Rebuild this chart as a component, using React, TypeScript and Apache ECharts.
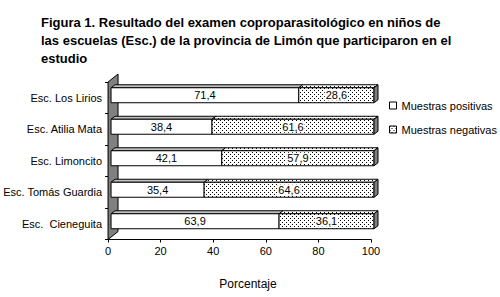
import React, { useEffect, useRef } from "react";
import * as echarts from "echarts";

const titleText =
  "Figura 1. Resultado del examen coproparasitológico en niños de\nlas escuelas (Esc.) de la provincia de Limón que participaron en el\nestudio";
const categories = [
  "Esc. Los Lirios",
  "Esc. Atilia Mata",
  "Esc. Limoncito",
  "Esc. Tomás Guardia",
  "Esc.  Cieneguita",
];
const positivas = [71.4, 38.4, 42.1, 35.4, 63.9];
const negativas = [28.6, 61.6, 57.9, 64.6, 36.1];
const seriesNames = ["Muestras positivas", "Muestras negativas"];
const xTicks = { min: 0, max: 100, interval: 20 };
const axisName = "Porcentaje";

const FONT = '"Liberation Sans", Arial, sans-serif';

function makePattern() {
  const c = document.createElement("canvas");
  c.width = 4;
  c.height = 4;
  const ctx = c.getContext("2d")!;
  ctx.fillStyle = "#fff";
  ctx.fillRect(0, 0, 4, 4);
  ctx.fillStyle = "#000";
  ctx.fillRect(0, 0, 1, 1);
  ctx.fillRect(2, 2, 1, 1);
  return { image: c, repeat: "repeat", imageWidth: 4, imageHeight: 4 } as any;
}

const fmt = (v: number) => v.toFixed(1).replace(".", ",");

export default function App() {
  const ref = useRef<HTMLDivElement>(null);
  useEffect(() => {
    if (!ref.current) return;
    const chart = echarts.init(ref.current, undefined, { renderer: "svg" });
    const pattern = makePattern();

    const makeBarRender = (isNeg: boolean) => (params: any, api: any) => {
      const start = api.value(0);
      const end = api.value(1);
      const ci = api.value(2);
      const p0 = api.coord([start, ci]);
      const p1 = api.coord([end, ci]);
      const band = api.size([0, 1])[1];
      const h = band * 0.476;
      const ox = 3,
        oy = -2.5,
        dx = 4,
        dy = -3;
      const x0 = p0[0] + ox;
      const x1 = p1[0] + ox;
      const yc = p0[1] + oy;
      const yt = yc - h / 2;
      const yb = yc + h / 2;
      const fill = isNeg ? pattern : "#fff";
      const stroke = { stroke: "#000", lineWidth: 1 };
      const children: any[] = [
        {
          type: "polygon",
          shape: {
            points: [
              [x0, yt],
              [x0 + dx, yt + dy],
              [x1 + dx, yt + dy],
              [x1, yt],
            ],
          },
          style: { fill: isNeg ? pattern : "#c0c0c0", ...stroke },
        },
        {
          type: "rect",
          shape: { x: x0, y: yt, width: x1 - x0, height: h },
          style: { fill, ...stroke },
        },
      ];
      if (isNeg) {
        children.push({
          type: "polygon",
          shape: {
            points: [
              [x1, yt],
              [x1 + dx, yt + dy],
              [x1 + dx, yb + dy],
              [x1, yb],
            ],
          },
          style: { fill: "#808080", ...stroke },
        });
      }
      children.push({
        type: "text",
        x: (x0 + x1) / 2,
        y: yc,
        style: {
          text: fmt(end - start),
          fill: "#000",
          font: `11px ${FONT}`,
          align: "center",
          verticalAlign: "middle",
          backgroundColor: "#fff",
          padding: [0, 1],
        },
      });
      return { type: "group", children };
    };

    const frameRender = (params: any, api: any) => {
      const cs = params.coordSys;
      const x = cs.x,
        y = cs.y,
        h = cs.height;
      return {
        type: "polygon",
        shape: {
          points: [
            [x, y],
            [x + 10, y - 8],
            [x + 10, y + h - 8],
            [x, y + h],
          ],
        },
        style: { fill: "#808080", stroke: "#000", lineWidth: 1 },
      };
    };

    chart.setOption({
      animation: false,
      backgroundColor: "#fff",
      title: {
        text: titleText,
        left: 36,
        top: 8,
        textStyle: {
          fontFamily: FONT,
          fontSize: 13,
          fontWeight: "bold",
          color: "#000",
          lineHeight: 18,
        },
      },
      legend: {
        data: seriesNames,
        orient: "vertical",
        left: 384,
        top: 95,
        itemWidth: 7,
        itemHeight: 7,
        itemGap: 13,
        icon: "rect",
        itemStyle: { borderColor: "#000", borderWidth: 1 },
        textStyle: { fontFamily: FONT, fontSize: 11, color: "#000" },
      },
      grid: { left: 108, right: 129, top: 82, bottom: 57.5, containLabel: false },
      xAxis: {
        type: "value",
        min: xTicks.min,
        max: xTicks.max,
        interval: xTicks.interval,
        axisLine: { show: true, lineStyle: { color: "#000" } },
        axisTick: { show: true, length: 3, lineStyle: { color: "#000" } },
        axisLabel: { fontFamily: FONT, fontSize: 11, color: "#000", margin: 6 },
        splitLine: { show: false },
        name: axisName,
        nameLocation: "middle",
        nameGap: 38,
        nameTextStyle: {
          fontFamily: FONT,
          fontSize: 12,
          color: "#000",
          padding: [0, 0, 0, 17],
        },
      },
      yAxis: {
        type: "category",
        data: categories,
        inverse: true,
        axisLine: { show: true, lineStyle: { color: "#000" } },
        axisTick: { show: true, length: 3, lineStyle: { color: "#000" } },
        axisLabel: { fontFamily: FONT, fontSize: 11, color: "#000", margin: 6 },
        splitLine: { show: false },
      },
      series: [
        {
          type: "custom",
          name: "frame",
          z: 1,
          silent: true,
          renderItem: frameRender,
          data: [[0, 0, 0]],
          encode: { x: [0, 1], y: 2 },
        },
        {
          type: "custom",
          name: seriesNames[0],
          z: 3,
          itemStyle: { color: "#fff" },
          renderItem: makeBarRender(false),
          data: categories.map((_, i) => [0, positivas[i], i]),
          encode: { x: [0, 1], y: 2 },
        },
        {
          type: "custom",
          name: seriesNames[1],
          z: 3,
          itemStyle: { color: pattern },
          renderItem: makeBarRender(true),
          data: categories.map((_, i) => [
            positivas[i],
            positivas[i] + negativas[i],
            i,
          ]),
          encode: { x: [0, 1], y: 2 },
        },
      ],
    });
    return () => chart.dispose();
  }, []);
  return (
    <div
      ref={ref}
      style={{ position: "fixed", left: 0, top: 0, width: 500, height: 297 }}
    />
  );
}
